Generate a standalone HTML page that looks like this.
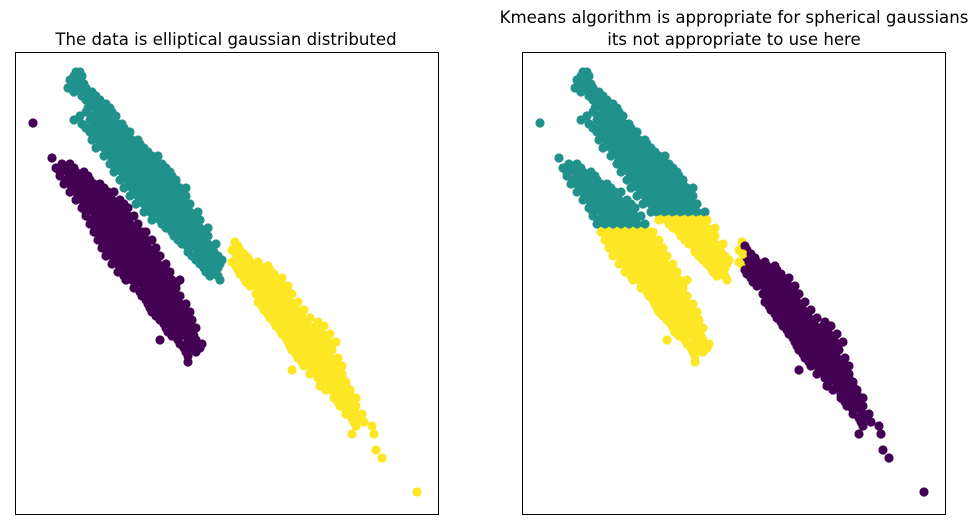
<!DOCTYPE html>
<html>
<head>
<meta charset="utf-8">
<style>
  html,body{margin:0;padding:0;background:#fff;}
  svg{display:block;}
  text{font-family:"DejaVu Sans","Liberation Sans",sans-serif;font-size:16.6px;fill:#000;}
</style>
</head>
<body>
<svg id="chart" width="978" height="529" viewBox="0 0 978 529">
  <rect x="0" y="0" width="978" height="529" fill="#fff"/>
  <g id="panelL"></g>
  <g id="panelR"></g>
  <rect x="15.5" y="52.5" width="423" height="462" fill="none" stroke="#000" stroke-width="1"/>
  <rect x="522.5" y="52.5" width="423" height="462" fill="none" stroke="#000" stroke-width="1"/>
  <text x="226" y="45" text-anchor="middle">The data is elliptical gaussian distributed</text>
  <text x="734" y="23" text-anchor="middle">Kmeans algorithm is appropriate for spherical gaussians</text>
  <text x="734" y="45" text-anchor="middle">its not appropriate to use here</text>
</svg>
<script>
// Data rows: each row "y: x x x ..." (data units)
const tealRows = "72:76 80|80:70 78|88:68 80 86|96:82 90 96|104:92 100 106|112:86 96 104 112|120:74 90 98 106 114|128:86 94 102 110 118 124|136:96 104 112 120 128|144:100 108 116 124 132 140|152:108 116 124 132 140 148|160:112 120 128 136 144 152|168:118 126 134 142 150 158 166|176:124 132 140 148 156 164 172|184:128 136 144 152 160 168 176|192:134 142 150 158 166 174 182|200:140 148 156 164 172 180|208:146 154 162 170 178 186|216:156 164 172 180 188 194|224:162 170 178 186 196|232:172 180 188 196 204|240:178 186 196 204|248:188 196 204 212|256:192 200 210 218|264:200 210 220|272:206 214|280:220";
const tealRows2 = "76:74 82|84:72 76 84|92:74 86 92|100:86 94 100|108:88 96 104 110|116:80 92 100 108 116|124:82 94 102 110 118 122|132:90 98 106 114 122 130|140:92 100 108 116 124 132 138|148:96 104 112 120 128 136 144|156:104 112 120 128 136 144 152 158|164:110 116 124 132 140 148 156 162|172:114 122 130 138 146 154 162 170|180:120 128 136 144 152 160 168 176|188:124 132 140 148 156 164 172 180 186|196:130 138 146 154 162 170 178 186|204:136 144 152 160 168 176 184 190|212:144 150 158 166 174 182 190 198|220:152 160 168 176 184 192 200|228:166 174 182 190 200 208|236:174 182 192 200 208|244:182 192 200 208 216|252:188 198 206 214|260:196 206 214 222|268:204 212 218|276:210 218";
const purpleRows = "123:33|158:52|164:62 70|172:60 68 76 84|180:66 74 82 90|188:72 80 88 96 104|196:80 88 96 104|204:84 92 100 108 116 124|212:86 94 102 110 118 126|220:92 100 108 116 124|228:96 104 112 120 128 136|236:100 108 116 124 132 140|244:104 112 120 128 136 144|252:110 118 126 134 142 150|260:114 122 130 138 146 154|268:120 128 136 144 152 160|276:124 132 140 148 156 164|284:136 144 152 160 168 176|292:140 148 156 164 172|300:146 154 162 170 178|308:150 158 166 174 182|316:156 164 172 180 188|324:164 172 180 188|332:168 176 184 192|340:160 178 188 196|348:184 192 200|356:188|362:188";
const purpleRows2 = "168:56 66 74|176:60 72 80 88|184:64 70 78 86 94 100|192:70 76 84 92 100 108 114|200:76 82 90 98 106 112 120|208:82 90 98 106 114 122 128|216:86 96 104 112 120 128 134|224:90 98 106 114 122 130 138|232:94 102 110 118 126 134 142 146|240:98 106 114 122 130 138 146 152|248:102 108 116 124 132 140 148 156|256:106 114 122 130 138 146 154 160|264:112 118 126 134 142 150 158 166|272:118 124 132 140 148 156 164 170|280:126 132 140 148 156 164 172 180|288:134 144 152 160 168 176|296:142 150 158 166 174 180|304:148 156 164 172 180 186|312:152 160 168 176 184 190|320:160 168 176 184 192|328:166 174 182 190 196|336:172 180 186 194|344:180 188 196 202|352:186 196";
const yellowRows = "242:235|250:232 240|258:240 248|266:236 244 252 260 268|274:240 250 258 266 274|282:246 254 262 270 278|290:258 266 274 282|298:262 270 278 286|306:262 270 278 286 294|314:268 276 284 292 300|322:274 282 290 298 306 318|330:280 288 296 304 312 320|338:286 294 302 310 318 326|346:290 298 306 314 322 330|354:296 304 312 320 328|362:302 310 318 326 334|370:292 312 320 328 336|378:318 326 334 342|386:320 330 338 346|394:334 342 350|402:338 346 352|410:346 354|418:352 360|426:356 372|434:352 374|450:376|458:382|492:417";
const yellowRows2 = "246:238|254:236 244|262:232 242 250 258|270:238 246 254 262 270|278:244 252 260 268 276 282|286:250 258 266 274 282 288|294:256 264 272 280 288 292|302:258 266 274 282 290 298|310:264 272 280 288 296 304|318:270 278 286 294 302 310|326:276 284 292 300 308 316 324|334:282 290 298 306 314 322 330|342:288 296 304 312 320 328 336|350:292 300 308 316 324 332|358:298 306 314 322 330 338|366:304 312 320 328 336 342|374:310 318 326 334 342|382:322 330 338 346|390:326 334 342 350|398:334 342 350 356|406:340 348 356|414:346 356 362|422:354 364";
const colors = ["#440154","#21918c","#fde725"];
const xDomain = [15, 438];
const yDomain = [52, 514];

function parse(rows, label){
  const pts=[];
  rows.split("|").forEach(r=>{
    const [y,xs]=r.split(":");
    xs.trim().split(/\s+/).forEach(x=>pts.push({x:+x,y:+y,trueLabel:label}));
  });
  return pts;
}
const points = [].concat(
  parse(purpleRows,0), parse(purpleRows2,0),
  parse(tealRows,1), parse(tealRows2,1),
  parse(yellowRows,2), parse(yellowRows2,2));
// k-means assignment (right panel)
points.forEach(p=>{
  if(p.trueLabel===0) p.km = p.y<226 ? 1 : 2;
  else if(p.trueLabel===1) p.km = p.y<214 ? 1 : 2;
  else p.km = p.x<=237 ? 2 : 0;
});

function makeScales(x0,y0){
  return {
    sx: d => x0 + (d-xDomain[0])/(xDomain[1]-xDomain[0])*423,
    sy: d => y0 + (d-yDomain[0])/(yDomain[1]-yDomain[0])*462
  };
}
const NS="http://www.w3.org/2000/svg";
function draw(gid, x0, key){
  const g=document.getElementById(gid);
  const s=makeScales(x0,52);
  points.forEach(p=>{
    const c=document.createElementNS(NS,"circle");
    c.setAttribute("cx",s.sx(p.x));
    c.setAttribute("cy",s.sy(p.y));
    c.setAttribute("r",4.6);
    c.setAttribute("fill",colors[p[key]]);
    
    
    g.appendChild(c);
  });
}
draw("panelL",15,"trueLabel");
draw("panelR",522,"km");
</script>
</body>
</html>
